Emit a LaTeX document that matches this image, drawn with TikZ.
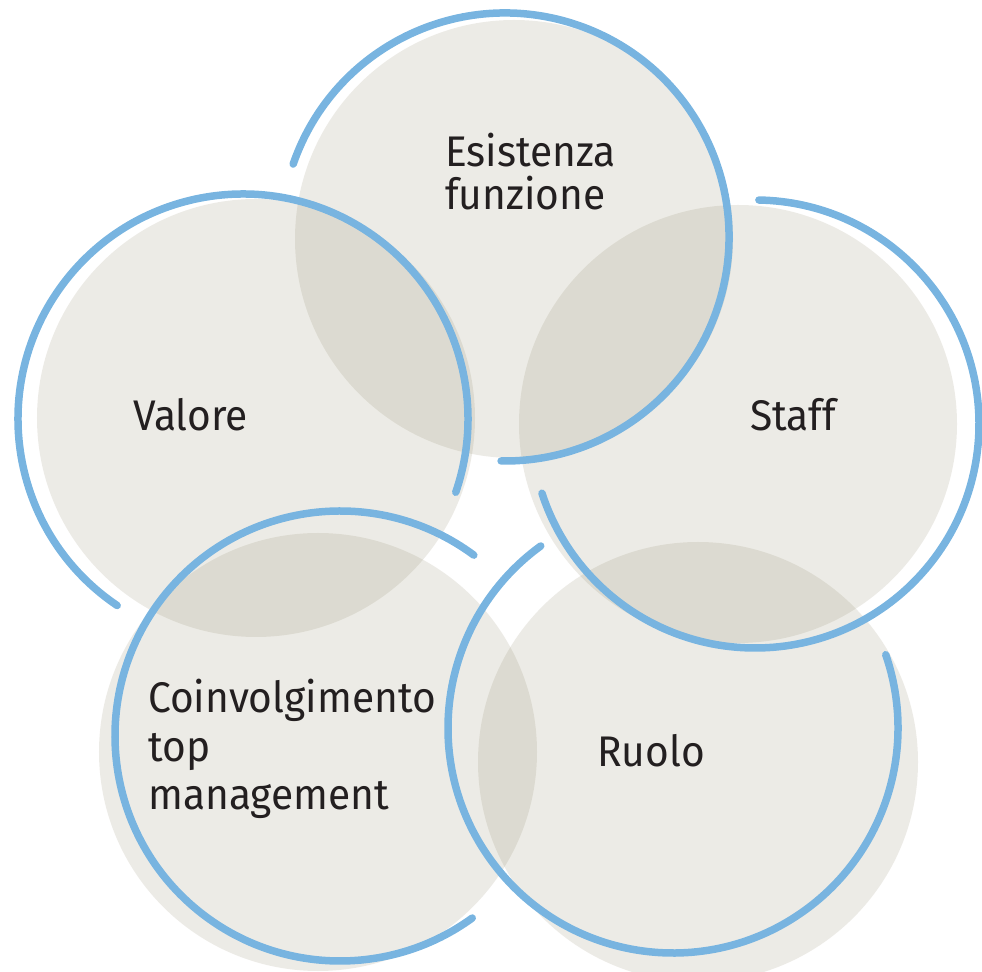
\documentclass[tikz,border=0pt]{standalone}
\usepackage{fontspec}
\setmainfont{Fira Sans}[FakeStretch=0.95]
\begin{document}
\definecolor{discfill}{RGB}{128,122,88}
\definecolor{ringblue}{RGB}{120,180,224}
\definecolor{labeltext}{RGB}{35,31,32}
\begin{tikzpicture}[x=1bp,y=1bp,
  disc/.style={circle,fill=discfill,fill opacity=0.15,draw=none,minimum size=438bp,inner sep=0pt},
  ring/.style={draw=ringblue,line width=7.5bp,line cap=round},
  lbl/.style={anchor=base west,inner sep=0pt,text=labeltext,font=\fontsize{43}{43}\selectfont}]
\useasboundingbox (0,0) rectangle (982,972);

% translucent discs
\node[disc] (esistenza) at (514,733) {};
\node[disc] (staff) at (738,548) {};
\node[disc] (valore) at (256,554) {};
\node[disc] (coinv) at (318,220) {};
\node[disc,minimum size=440bp] (ruolo) at (698,210) {};

% centres of the open rings
\coordinate (r1) at (505,735);
\coordinate (r2) at (755,548);
\coordinate (r3) at (243,553);
\coordinate (r4) at (340,236);
\coordinate (r5) at (673,244);

% open rings
\draw[ring] ([shift={(161:224)}]r1) arc[start angle=161,end angle=-91,radius=224];
\draw[ring] ([shift={(89:224)}]r2) arc[start angle=89,end angle=-162,radius=224];
\draw[ring] ([shift={(236:225)}]r3) arc[start angle=236,end angle=-19,radius=225];
\draw[ring] ([shift={(53.5:225)}]r4) arc[start angle=53.5,end angle=306,radius=225];
\draw[ring] ([shift={(126:225)}]r5) arc[start angle=126,end angle=379,radius=225];

% labels
\node[lbl] (t1a) at (445,805) {Esistenza};
\node[lbl] (t1b) at (445,762) {funzione};
\node[lbl] (t2) at (750,541) {Staff};
\node[lbl] (t3) at (133,541) {Valore};
\node[lbl] (t4a) at (148,259) {Coinvolgimento};
\node[lbl] (t4b) at (148,210) {top};
\node[lbl] (t4c) at (148,162) {management};
\node[lbl] (t5) at (597,205) {Ruolo};
\end{tikzpicture}
\end{document}
